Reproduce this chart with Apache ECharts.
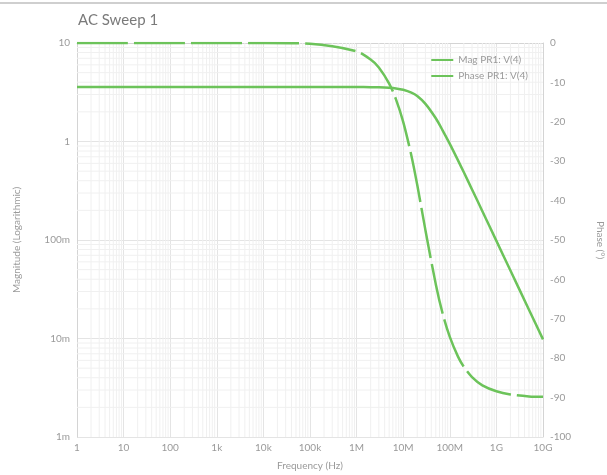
<!DOCTYPE html>
<html>
<head>
<meta charset="utf-8">
<script src="https://cdn.jsdelivr.net/npm/echarts@6/dist/echarts.min.js"></script>
<style>html,body{margin:0;padding:0;background:#fff}#c{width:607px;height:475px}</style>
</head>
<body>
<div id="c"></div>
<script>
// Data
const freq = [1, 10, 100, 1e3, 1e4, 1e5, 1e6, 2e6, 3e6, 5e6, 7e6, 1e7, 1.5e7, 2e7, 3e7, 5e7, 7e7, 1e8, 1.5e8, 2e8, 3e8, 5e8, 1e9, 2e9, 5e9, 1e10];
const magnitude = [3.57, 3.57, 3.57, 3.57, 3.57, 3.57, 3.568, 3.56, 3.55, 3.51, 3.46, 3.35, 3.13, 2.89, 2.41, 1.72, 1.30, 0.945, 0.643, 0.487, 0.326, 0.196, 0.098, 0.049, 0.0196, 0.0098];
const phase = [0, 0, 0, 0, 0, -0.2, -2.1, -4.2, -6.2, -10.3, -14.3, -20, -28.6, -36, -47.5, -61.2, -68.6, -74.6, -79.6, -82.2, -84.8, -86.9, -88.4, -89.2, -89.7, -89.8];
const xTickValues = [1, 10, 100, 1e3, 1e4, 1e5, 1e6, 1e7, 1e8, 1e9, 1e10];
const xTickLabels = ['1', '10', '100', '1k', '10k', '100k', '1M', '10M', '100M', '1G', '10G'];
const yTickValues = [0.001, 0.01, 0.1, 1, 10];
const yTickLabels = ['1m', '10m', '100m', '1', '10'];
const seriesNames = ['Mag PR1: V(4)', 'Phase PR1: V(4)'];

function labelFor(vals, labels, v) {
  const lv = Math.log10(v);
  for (let i = 0; i < vals.length; i++) {
    if (Math.abs(lv - Math.log10(vals[i])) < 0.01) return labels[i];
  }
  return '';
}
const minorX = [];
for (let i = 0; i < xTickValues.length - 1; i++) for (let m = 2; m <= 9; m++) minorX.push(xTickValues[i] * m);
const minorY = [];
for (let i = 0; i < yTickValues.length - 1; i++) for (let m = 2; m <= 9; m++) minorY.push(yTickValues[i] * m);

const xMin = xTickValues[0], xMax = xTickValues[xTickValues.length - 1];
const yMin = yTickValues[0], yMax = yTickValues[yTickValues.length - 1];

const green = '#6cc35a';
const grey = '#9a9a9a';
const font = 'Lato';
const chart = echarts.init(document.getElementById('c'), null, { renderer: 'canvas' });
chart.setOption({
  backgroundColor: '#fff',
  animation: false,
  textStyle: { fontFamily: font },
  title: { text: 'AC Sweep 1', left: 73, top: 8, textStyle: { fontFamily: font, fontSize: 15, fontWeight: 'normal', color: '#7a7a7a' } },
  graphic: [{ type: 'line', shape: { x1: 0, y1: 3, x2: 607, y2: 3 }, style: { stroke: '#cfcfcf', lineWidth: 2 } }],
  legend: {
    orient: 'vertical', right: 74, top: 50, itemWidth: 22, itemHeight: 10, itemGap: 6,
    textStyle: { fontFamily: font, fontSize: 10, color: grey },
    data: seriesNames.map(n => ({ name: n, icon: 'path://M0,4 L22,4 L22,6 L0,6 Z' }))
  },
  grid: { left: 77, right: 64, top: 43, bottom: 38, containLabel: false, outerBoundsMode: 'none' },
  xAxis: {
    type: 'log', logBase: 10, min: xMin, max: xMax, interval: 1, splitNumber: 10,
    name: 'Frequency (Hz)', nameLocation: 'middle', nameGap: 24,
    nameTextStyle: { fontFamily: font, fontSize: 10, color: grey },
    axisLine: { show: true, lineStyle: { color: '#d4d4d4' } },
    axisTick: { show: false },
    axisLabel: { fontFamily: font, fontSize: 10, color: grey, margin: 6, hideOverlap: false, interval: 0, formatter: v => labelFor(xTickValues, xTickLabels, v) },
    splitLine: { show: true, lineStyle: { color: '#e4e4e4' } }
  },
  yAxis: [{
    type: 'log', logBase: 10, min: yMin, max: yMax,
    name: 'Magnitude (Logarithmic)', nameLocation: 'middle', nameGap: 55, nameRotate: 90,
    nameTextStyle: { fontFamily: font, fontSize: 10, color: grey },
    axisLine: { show: true, lineStyle: { color: '#d4d4d4' } },
    axisTick: { show: false },
    axisLabel: { fontFamily: font, fontSize: 10, color: grey, margin: 7, formatter: v => labelFor(yTickValues, yTickLabels, v) },
    splitLine: { show: true, lineStyle: { color: '#e4e4e4' } }
  }, {
    type: 'value', min: -100, max: 0, interval: 10, position: 'right',
    name: 'Phase (°)', nameLocation: 'middle', nameGap: 52, nameRotate: -90,
    nameTextStyle: { fontFamily: font, fontSize: 10, color: grey },
    axisLine: { show: true, lineStyle: { color: '#d4d4d4' } },
    axisTick: { show: false },
    axisLabel: { fontFamily: font, fontSize: 10, color: grey, margin: 7 },
    splitLine: { show: false }
  }],
  series: [{
    name: 'minor-x', type: 'custom', silent: true, z: 1, yAxisIndex: 0,
    data: minorX.map(v => [v]),
    encode: { x: 0 },
    renderItem: (params, api) => {
      const p1 = api.coord([api.value(0), yMin]);
      const p2 = api.coord([api.value(0), yMax]);
      return { type: 'line', shape: { x1: p1[0], y1: p1[1], x2: p2[0], y2: p2[1] }, style: { stroke: '#f0f0f0', lineWidth: 1 } };
    }
  }, {
    name: 'minor-y', type: 'custom', silent: true, z: 1, yAxisIndex: 0,
    data: minorY.map(v => [xMin, v]),
    encode: { x: 0, y: 1 },
    renderItem: (params, api) => {
      const p1 = api.coord([xMin, api.value(1)]);
      const p2 = api.coord([xMax, api.value(1)]);
      return { type: 'line', shape: { x1: p1[0], y1: p1[1], x2: p2[0], y2: p2[1] }, style: { stroke: '#f0f0f0', lineWidth: 1 } };
    }
  }, {
    name: seriesNames[0], type: 'line', yAxisIndex: 0, showSymbol: false, smooth: 0.3,
    data: freq.map((f, i) => [f, magnitude[i]]),
    lineStyle: { color: green, width: 2.5 }, itemStyle: { color: green }, z: 5
  }, {
    name: seriesNames[1], type: 'line', yAxisIndex: 1, showSymbol: false, smooth: 0.3,
    data: freq.map((f, i) => [f, phase[i]]),
    lineStyle: { color: green, width: 2.5, type: [51, 6] }, itemStyle: { color: green }, z: 5
  }]
});
</script>
</body>
</html>
